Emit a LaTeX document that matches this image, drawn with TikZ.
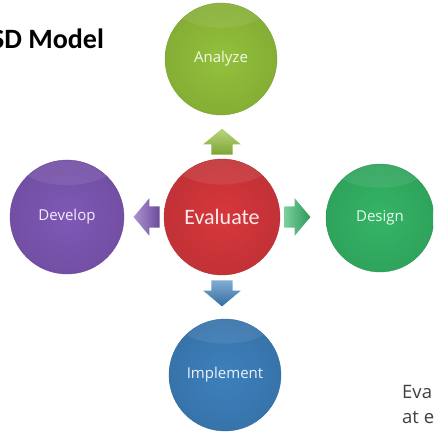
\documentclass[tikz,border=0pt]{standalone}
\usepackage{fontspec}
\setmainfont{Carlito}
\newfontfamily\labelfont{Open Sans}
\usetikzlibrary{positioning,shapes.arrows,shadings}
\definecolor{analyzegreen}{HTML}{93C13B}
\definecolor{evalred}{HTML}{D7373C}
\definecolor{developpurple}{HTML}{7F58B6}
\definecolor{designgreen}{HTML}{34B566}
\definecolor{implementblue}{HTML}{3D80BD}

\begin{document}
\begin{tikzpicture}[
                x=1pt,y=-1pt,
                phase/.style 2 args={circle,shading=radial,inner color=#1,outer color=#1!90!black,draw=#1!85!black,line width=0.4pt,minimum size=#2,inner sep=0pt,text=white!90!#1,font=\labelfont\fontsize{15}{17}\selectfont,
                    path picture={\fill[white,opacity=0.08] (path picture bounding box.north) ellipse [x radius=0.45*#2,y radius=0.22*#2];}},
                blockarrow/.style 2 args={single arrow,draw=none,shading=axis,top color=#1!65!white,bottom color=#1!85!black,shading angle=#2,single arrow head extend=8pt,minimum height=26pt,inner xsep=4pt,inner ysep=10.5pt,single arrow tip angle=100}
            ]
                \clip (0,0) rectangle (433,433);
                \useasboundingbox (0,0) rectangle (433,433);
                \fill[white] (0,0) rectangle (433,433);
                % title and cut text
                \node (title) [anchor=base west,font=\bfseries\fontsize{28}{30}\selectfont,inner sep=0pt] at (-9,49) {SD Model};
                \node (noteA) [anchor=base west,font=\labelfont\fontsize{18.5}{21}\selectfont,text=black!75,inner sep=0pt] at (402,398) {Eva};
                \node (noteB) [anchor=base west,font=\labelfont\fontsize{18.5}{21}\selectfont,text=black!75,inner sep=0pt] at (402,423) {at e};
                % circles
                \node (eval) [phase={evalred}{116pt},font=\fontsize{22}{24}\selectfont] at (222,217) {Evaluate};
                \node (analyze) [phase={analyzegreen}{112pt}] at (221,59) {Analyze};
                \node (develop) [phase={developpurple}{114pt}] at (67,217) {Develop};
                \node (design) [phase={designgreen}{108pt}] at (380,218) {Design};
                \node (implement) [phase={implementblue}{112pt}] at (225,375) {Implement};
                % arrows
                \node (toA) [blockarrow={analyzegreen}{0},rotate=90,above=4pt of eval,anchor=west] {};
                \node (toD) [blockarrow={developpurple}{90},rotate=180,left=4pt of eval,anchor=west] {};
                \node (toG) [blockarrow={designgreen}{90},right=4pt of eval,anchor=west] {};
                \node (toI) [blockarrow={implementblue}{0},rotate=-90,below=5pt of eval,anchor=west] {};
            \end{tikzpicture}
\end{document}
